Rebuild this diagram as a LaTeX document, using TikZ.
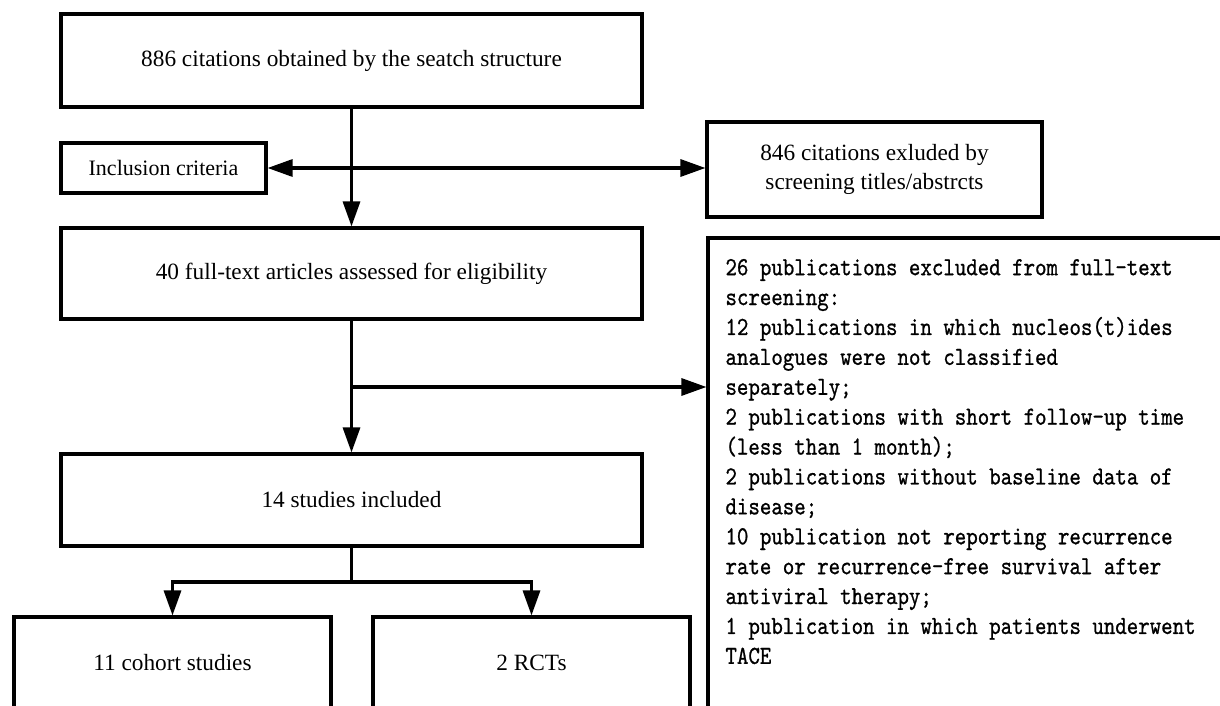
\documentclass[tikz,border=0pt]{standalone}
\usepackage{fontspec}
\setmainfont{Liberation Serif}
\newfontfamily\exclfont[FakeStretch=0.84,FakeBold=0.8]{lmmono10-regular.otf}
\usetikzlibrary{arrows.meta}

\begin{document}
\begin{tikzpicture}[
      x=1pt,y=-1pt,line width=3.1pt,
      >={Triangle[length=25pt,width=17pt]},
      box/.style={
        draw,inner sep=0pt,align=center,
        font=\fontsize{23.3}{29}\selectfont
      },
    ]
    \useasboundingbox (0,0) rectangle (1220,706);
    \clip (0,0) rectangle (1220,706);
    \node[box,minimum width=581pt,minimum height=93pt] (src) at (351.5,60.5) {886 citations obtained by the seatch structure};
    \node[box,minimum width=205pt,minimum height=50pt,font=\fontsize{22}{29}\selectfont] (incl) at (163.5,168) {Inclusion criteria};
    \node[box,minimum width=335pt,minimum height=95pt] (ex1) at (874.5,169.5) {846 citations exluded by\\screening titles/abstrcts};
    \node[box,minimum width=581pt,minimum height=91pt] (full) at (351.5,273.5) {40 full-text articles assessed for eligibility};
    \node[box,minimum width=520pt,minimum height=482pt] (ex2) at (968,479) {};
    \node[anchor=north west,align=left,inner sep=0pt,font=\exclfont\fontsize{26}{29.9}\selectfont] (ex2txt) at ([xshift=17.5pt,yshift=-21pt]ex2.north west) {26 publications excluded from full-text\\screening:\\12 publications in which nucleos(t)ides\\analogues were not classified\\separately;\\2 publications with short follow-up time\\(less than 1 month);\\2 publications without baseline data of\\disease;\\10 publication not reporting recurrence\\rate or recurrence-free survival after\\antiviral therapy;\\1 publication in which patients underwent\\TACE};
    \node[box,minimum width=581pt,minimum height=92pt] (inc) at (351.5,500) {14 studies included};
    \node[box,minimum width=317pt,minimum height=92pt] (coh) at (172.5,663) {11 cohort studies};
    \node[box,minimum width=317pt,minimum height=92pt] (rct) at (531.5,663) {2 RCTs};
    \coordinate (sp) at (351.5,387);
    \coordinate (fk) at (351.5,582);
    \draw[->] (src) -- (full);
    \draw[<->] (incl) -- (incl -| ex1.west);
    \draw[->] (full) -- (inc);
    \draw[->] (sp) -- (sp -| ex2.west);
    \draw (inc) -- (fk);
    \draw[->] (fk) -| (coh);
    \draw[->] (fk) -| (rct);
  \end{tikzpicture}
\end{document}
